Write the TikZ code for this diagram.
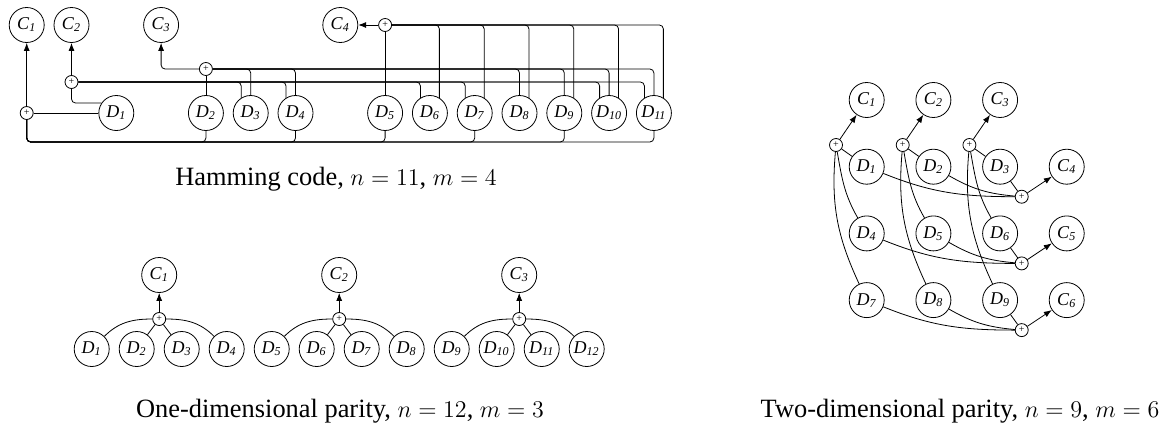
\documentclass[tikz,border=0pt]{standalone}
\usepackage{fontspec}
\setmainfont{Liberation Serif}
\usetikzlibrary{arrows.meta, positioning, calc}
\newcommand{\lbl}[2]{\textit{#1}\textsubscript{\textit{#2}}}
\tikzset{
	bit/.style    ={circle, draw=black, minimum size=17.5pt, inner sep=0pt, font=\fontsize{9}{10}\selectfont},
	xor/.style    ={circle, draw=black, minimum size=6.5pt, inner sep=0pt, font=\fontsize{5}{5}\selectfont},
	sig/.style    ={-{Latex[length=4pt, width=3pt]}},
	bus/.style    ={rounded corners=2pt},
	% captions under the three codes
	captxt/.style ={inner sep=0pt, anchor=base, font=\fontsize{13.2}{15}\selectfont},
}

\begin{document}
\begin{tikzpicture}[x=0.5pt, y=0.5pt]
	\useasboundingbox (0,0) rectangle (1171,425);
	% Hamming code
	\foreach \n/\k in {1/0,2/1,3/3,4/7}
		\node[bit] (hC\n) at ({26.7+44.8*\k},400) {\lbl{C}{\n}};
	\foreach \n/\k in {1/2,2/4,3/5,4/6,5/8,6/9,7/10,8/11,9/12,10/13,11/14}
		\node[bit] (hD\n) at ({26.7+44.8*\k},312) {\lbl{D}{\n}};
	\coordinate (hB) at (0,283);
	\node[xor] (hP1) at (hC1 |- hD1) {+};
	\node[xor] (hP2) at (hC2 |- 0,343) {+};
	\node[xor] (hP3) at (hD2 |- 0,356) {+};
	\node[xor] (hP4) at (hD5 |- hC4) {+};
	\draw[sig] (hP1) -- (hC1);
	\draw[sig] (hP2) -- (hC2);
	\draw[sig, bus] (hP3) -| (hC3);
	\draw[sig] (hP4) -- (hC4);
	\draw (hP1) -- (hD1);
	\foreach \d in {2,4,5,7,9,11}
		\draw[bus] (hD\d.south) |- (hP1 |- hB) -- (hP1.south);
	\draw[bus] (hP2) |- (hD1.146);
	\foreach \d in {3,4,6,7,10,11}
		\draw[bus] (hD\d.122) |- (hP2);
	\draw (hP3) -- (hD2);
	\foreach \d in {3,4,8,9,10,11}
		\draw[bus] (hD\d) |- (hP3);
	\draw (hP4) -- (hD5);
	\foreach \d in {6,...,11}
		\draw[bus] (hD\d.58) |- (hP4);
	\node[captxt] (hCap) at (336,240) {Hamming code, $n=11$, $m=4$};
	% one-dimensional parity
	\foreach \i in {1,...,12}
		\node[bit] (oD\i) at ({91.7+45*(\i-1)},76) {\lbl{D}{\i}};
	\foreach \j/\a/\b/\c/\d in {1/1/2/3/4, 2/5/6/7/8, 3/9/10/11/12} {
		\node[bit] (oC\j) at ({159.2+180*(\j-1)},150) {\lbl{C}{\j}};
		\node[xor] (oP\j) at ({159.2+180*(\j-1)},106) {+};
		\draw[sig] (oP\j) -- (oC\j);
		\draw (oD\a) to[out=45, in=180] (oP\j);
		\draw (oD\b) -- (oP\j);
		\draw (oD\c) -- (oP\j);
		\draw (oD\d) to[out=135, in=0] (oP\j);
	}
	\node[captxt] (oCap) at (340,8) {One-dimensional parity, $n=12$, $m=3$};
	% two-dimensional parity
	\foreach \r in {0,1,2}
		\foreach \c in {0,1,2} {
			\pgfmathtruncatemacro{\n}{3*\r+\c+1}
			\node[bit] (tD\n) at ({866.7+66.7*\c},{258.3-66.7*\r}) {\lbl{D}{\n}};
		}
	\foreach \c/\d/\e/\f in {1/1/4/7, 2/2/5/8, 3/3/6/9} {
		\node[bit] (tC\c) at ({866.7+66.7*(\c-1)},325) {\lbl{C}{\c}};
		\node[xor] (tX\c) at ({836+66.7*(\c-1)},280) {+};
		\draw[sig] (tX\c) -- (tC\c);
		\draw (tX\c) -- (tD\d);
		\draw (tX\c) to[out=-80, in=120] (tD\e);
		\draw (tX\c) to[out=-95, in=115] (tD\f);
	}
	\foreach \r/\d/\e/\f in {4/1/2/3, 5/4/5/6, 6/7/8/9} {
		\node[bit] (tC\r) at (1066.7,{258.3-66.7*(\r-4)}) {\lbl{C}{\r}};
		\node[xor] (tY\r) at (1021.7,{228.3-66.7*(\r-4)}) {+};
		\draw[sig] (tY\r) -- (tC\r);
		\draw (tD\f) -- (tY\r);
		\draw (tD\e) to[out=-30, in=175] (tY\r);
		\draw (tD\d) to[out=-22, in=180] (tY\r);
	}
	\node[captxt] (tCap) at (960,8) {Two-dimensional parity, $n=9$, $m=6$};
\end{tikzpicture}
\end{document}
